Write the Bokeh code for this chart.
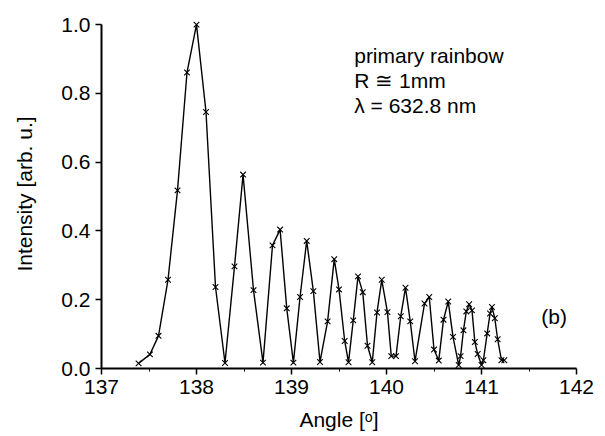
from bokeh.plotting import figure
from bokeh.models import Range1d, PrintfTickFormatter, FixedTicker, Label
from bokeh.embed import file_html
from bokeh.resources import INLINE

angle = [137.39, 137.51, 137.60, 137.70, 137.80, 137.90, 138.00, 138.10, 138.20, 138.30,
         138.40, 138.49, 138.60, 138.70, 138.80, 138.88, 138.95, 139.02, 139.09, 139.16,
         139.23, 139.30, 139.38, 139.45, 139.50, 139.56, 139.60, 139.65, 139.70, 139.75,
         139.80, 139.85, 139.90, 139.95, 140.01, 140.05, 140.10, 140.15, 140.20, 140.25,
         140.30, 140.40, 140.45, 140.50, 140.55, 140.60, 140.65, 140.70, 140.76, 140.78,
         140.81, 140.84, 140.87, 140.90, 140.93, 140.96, 141.00, 141.02, 141.06, 141.09,
         141.11, 141.14, 141.17, 141.21, 141.24]
intensity = [0.015, 0.041, 0.095, 0.258, 0.518, 0.861, 1.000, 0.746, 0.237, 0.016,
             0.297, 0.564, 0.228, 0.017, 0.358, 0.404, 0.175, 0.017, 0.208, 0.371,
             0.225, 0.019, 0.137, 0.318, 0.230, 0.080, 0.018, 0.140, 0.268, 0.222,
             0.066, 0.018, 0.163, 0.258, 0.164, 0.036, 0.036, 0.152, 0.235, 0.137,
             0.021, 0.189, 0.208, 0.055, 0.023, 0.142, 0.195, 0.092, 0.010, 0.036,
             0.111, 0.166, 0.187, 0.169, 0.077, 0.042, 0.010, 0.024, 0.102, 0.160,
             0.179, 0.146, 0.085, 0.024, 0.024]

x_ticks = [137, 138, 139, 140, 141, 142]
x_minor = [137.5, 138.5, 139.5, 140.5, 141.5]
y_ticks = [0.0, 0.2, 0.4, 0.6, 0.8, 1.0]
annotation = ["primary rainbow", "R \u2245 1mm", "\u03bb = 632.8 nm"]
annotation_y = [0.910, 0.8375, 0.765]
panel_label = "(b)"

FONT = "Liberation Sans"
FS = "21px"

p = figure(width=605, height=436, output_backend="svg", toolbar_location=None,
           x_range=Range1d(137, 142), y_range=Range1d(0, 1.015),
           min_border_left=101, min_border_right=29, min_border_top=19, min_border_bottom=68)
p.outline_line_color = None
p.xgrid.visible = False
p.ygrid.visible = False

p.line(angle, intensity, line_color="black", line_width=1.4)
p.scatter(angle, intensity, marker="x", size=8, line_color="black", line_width=1.1)

for ax in (p.xaxis[0], p.yaxis[0]):
    ax.axis_line_width = 2
    ax.major_tick_line_width = 1.5
    ax.minor_tick_line_width = 1
    ax.major_tick_out = 6
    ax.major_tick_in = 0
    ax.minor_tick_out = 3
    ax.minor_tick_in = 0
    ax.major_label_text_font = FONT
    ax.major_label_text_font_size = FS
    ax.major_label_text_color = "black"
    ax.axis_label_text_font = FONT
    ax.axis_label_text_font_size = FS
    ax.axis_label_text_font_style = "normal"
    ax.axis_label_text_color = "black"

p.xaxis.ticker = FixedTicker(ticks=x_ticks, minor_ticks=x_minor)
p.yaxis.ticker = FixedTicker(ticks=y_ticks, minor_ticks=[])
p.yaxis.formatter = PrintfTickFormatter(format="%.1f")
p.yaxis.bounds = (0, 1)
p.xaxis.axis_label = "Angle [\u1d52]"
p.yaxis.axis_label = "Intensity [arb. u.]"
p.xaxis.major_label_standoff = 5
p.yaxis.major_label_standoff = 5
p.xaxis.axis_label_standoff = 11
p.yaxis.axis_label_standoff = 22

for t, yy in zip(annotation, annotation_y):
    p.add_layout(Label(x=139.66, y=yy, text=t,
                       text_font=FONT, text_font_size=FS, text_color="black",
                       text_baseline="middle"))
p.add_layout(Label(x=141.63, y=0.152, text=panel_label,
                   text_font=FONT, text_font_size=FS, text_color="black",
                   text_baseline="middle"))

open("out.html", "w").write(file_html(p, INLINE))
